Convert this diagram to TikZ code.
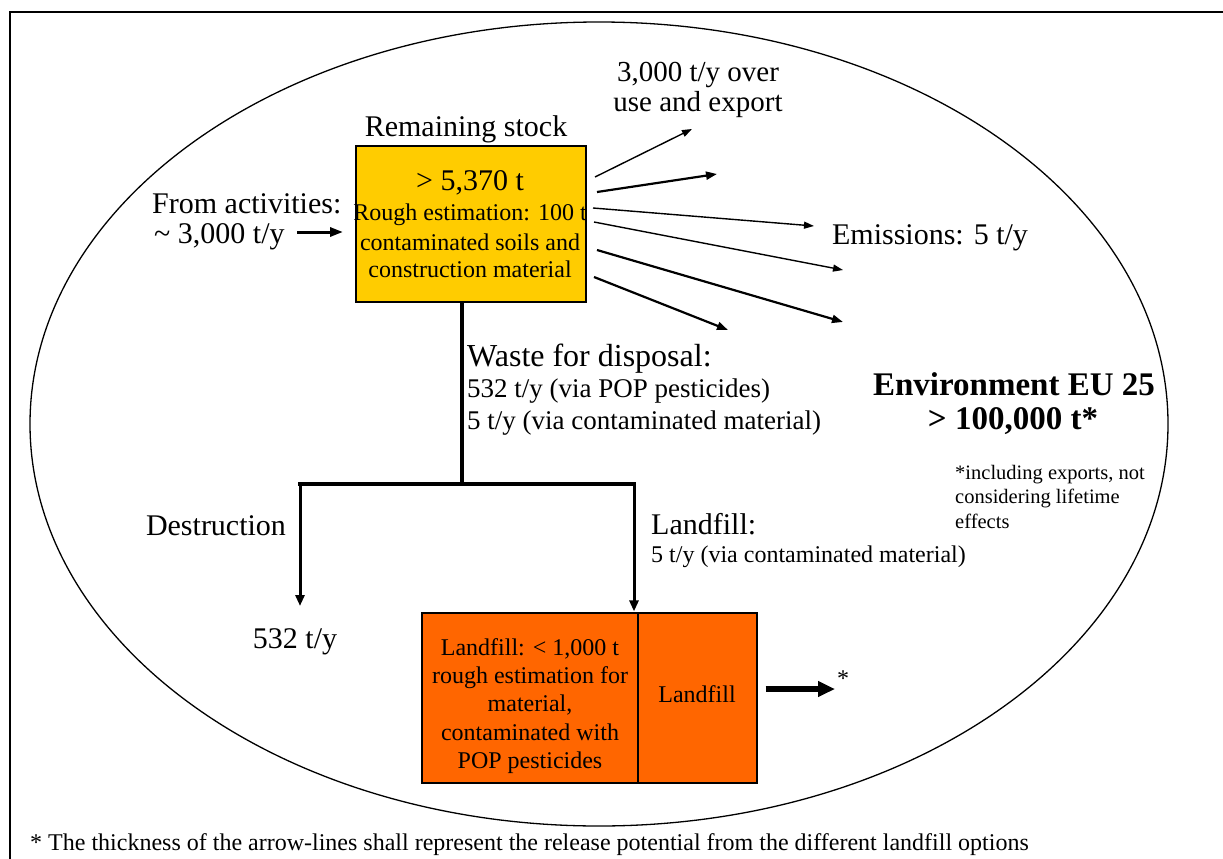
\documentclass[tikz,border=0pt]{standalone}
\usepackage{fontspec}
\setmainfont{Liberation Serif}
\usetikzlibrary{arrows.meta,calc}
\definecolor{stockyellow}{HTML}{FFCC00}
\definecolor{lforange}{HTML}{FF6600}
\begin{document}
\begin{tikzpicture}[x=1pt,y=-1pt,
  fs/.style={font=\fontsize{#1}{#1}\selectfont},
  lbl/.style={inner sep=0pt, align=center, yshift=-2pt},
  lbll/.style={inner sep=0pt, align=left, anchor=west, yshift=-2pt},
  boxst/.style={draw=black, line width=1.2pt, inner sep=0pt},
  thinarr/.style={line width=1.4pt, -{Triangle[length=10pt,width=7pt]}},
  medarr/.style={line width=2.2pt, -{Triangle[length=11pt,width=8pt]}},
  treeline/.style={line width=3.5pt},
  treearr/.style={line width=3pt, -{Triangle[length=11pt,width=9pt]}},
  inarr/.style={line width=3pt, -{Triangle[length=13pt,width=9pt]}},
  fatarr/.style={line width=5.5pt, -{Triangle[length=17pt,width=15pt]}}
]
\useasboundingbox (0,0) rectangle (1223,859);
\fill[white] (0,0) rectangle (1223,859);
% frame and ellipse
\draw[line width=2pt] (10,859) -- (10,12) -- (1223,12);
\draw[line width=1.3pt] (599,424) ellipse [x radius=569pt, y radius=402pt];

% remaining stock box
\node[boxst, fill=stockyellow, minimum width=230pt, minimum height=156pt] (stock) at (471,224) {};
\node[lbl, fs=30] (stocktitle) at (466,127) {Remaining stock};
\node[lbl, fs=30] (stockamt) at (470,181) {> 5,370 t};
\node[lbl, fs=24] (stockl1) at (470,213) {Rough estimation: 100 t};
\node[lbl, fs=24] (stockl2) at (470,240) {contaminated soils and};
\node[lbl, fs=24] (stockl3) at (470,267) {construction material};

% input
\node[lbll, fs=30] (act1) at (152,202) {From activities:};
\node[lbll, fs=30] (act2) at (154,235) {\textasciitilde{} 3,000 t/y};
\coordinate (ina) at (297,232);
\coordinate (inb) at (343,232);
\draw[inarr] (ina) -- (inb);

% outflow arrows
\coordinate (s1) at (595,177); \coordinate (e1) at (692,129);
\coordinate (s2) at (597,192); \coordinate (e2) at (717,174);
\coordinate (s3) at (593,208); \coordinate (e3) at (814,226);
\coordinate (s4) at (594,222); \coordinate (e4) at (843,270);
\coordinate (s5) at (597,250); \coordinate (e5) at (843,322);
\coordinate (s6) at (594,277); \coordinate (e6) at (728,330);
\draw[thinarr] (s1) -- (e1);
\draw[medarr] (s2) -- (e2);
\draw[thinarr] (s3) -- (e3);
\draw[thinarr] (s4) -- (e4);
\draw[medarr] (s5) -- (e5);
\draw[medarr] (s6) -- (e6);

\node[lbl, font=\fontsize{29}{30}\selectfont] (useexp) at (698,88) {3,000 t/y over\\use and export};
\node[lbl, fs=30] (emis) at (930,236) {Emissions: 5 t/y};

% waste for disposal
\node[lbll, fs=32] (waste) at (467,357) {Waste for disposal:};
\node[lbll, fs=27] (waste1) at (467,389) {532 t/y (via POP pesticides)};
\node[lbll, fs=27] (waste2) at (467,421) {5 t/y (via contaminated material)};

% environment
\node[lbl, fs=33] (env1) at (1014,382) {\bfseries Environment EU 25};
\node[lbl, fs=33] (env2) at (1013,419) {\bfseries > 100,000 t*};
\node[lbll, font=\fontsize{20.5}{24.5}\selectfont] (envnote) at (955,494.5) {*including exports, not\\considering lifetime\\effects};

% tree
\coordinate (t0) at (462,302);
\coordinate (t1) at (462,484);
\coordinate (tl) at (300,484);
\coordinate (tr) at (634,484);
\coordinate (dl) at (300,606);
\draw[treeline] (stock.south -| t0) -- (t1);
\draw[treeline, line cap=rect] (tl) -- (tr);
\draw[treearr] (tl) -- (dl);

\node[lbl, fs=30] (destr) at (216,524) {Destruction};
\node[lbl, fs=30] (d532) at (295,640) {532 t/y};
\node[lbll, fs=30] (lfl) at (651,522) {Landfill:};
\node[lbll, fs=24] (lfl2) at (651,555) {5 t/y (via contaminated material)};

% landfill boxes
\node[boxst, fill=lforange, minimum width=216pt, minimum height=170pt] (lfA) at (530,698) {};
\node[boxst, fill=lforange, minimum width=119pt, minimum height=170pt] (lfB) at (697.5,698) {};
\draw[treearr] (tr) -- ($(lfA.north east -| tr)+(0,-1)$);
\node[lbl, font=\fontsize{24}{28.3}\selectfont] (lfAtext) at (530,704) {Landfill: < 1,000 t\\rough estimation for\\material,\\contaminated with\\POP pesticides};
\node[lbl, fs=24] (lfBtext) at (697,692) {Landfill};

\coordinate (fa) at (835,689);
\draw[fatarr] ($(lfB.east)+(8,-9)$) -- (fa);
\node[lbl, fs=24] (star) at (843,677) {*};

% footnote
\node[lbll, fs=24] (foot) at (30,843) {* The thickness of the arrow-lines shall represent the release potential from the different landfill options};
\end{tikzpicture}
\end{document}
